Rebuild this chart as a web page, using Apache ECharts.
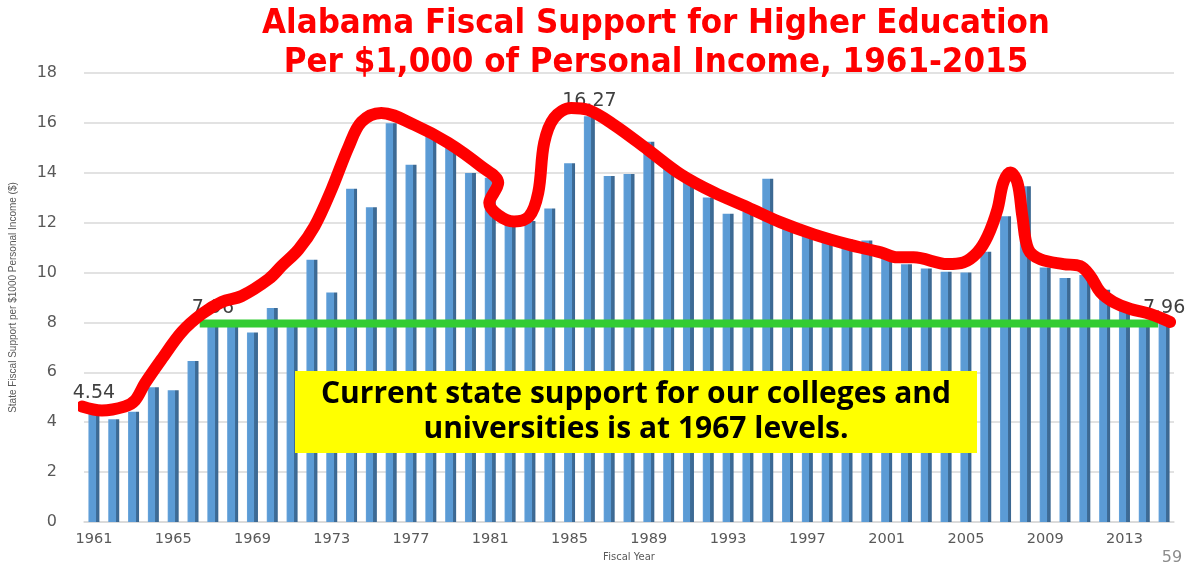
<!DOCTYPE html>
<html>
<head>
<meta charset="utf-8">
<title>Alabama Fiscal Support for Higher Education</title>
<script src="https://cdn.jsdelivr.net/npm/echarts@6/dist/echarts.min.js"></script>
<style>
  html, body { margin: 0; padding: 0; background: #ffffff; }
  #chart { width: 1190px; height: 567px; }
</style>
</head>
<body>
<div id="chart"></div>
<script>
// Fiscal years 1961-2015
const years = [];
for (let y = 1961; y <= 2015; y++) years.push(String(y));

// State fiscal support per $1,000 of personal income
const support = [
  4.54, 4.12, 4.42, 5.40, 5.28, 6.45, 7.96, 8.05, 7.60, 8.58,
  8.05, 10.51, 9.20, 13.36, 12.62, 15.99, 14.32, 15.50, 15.05, 13.99,
  13.80, 12.10, 12.07, 12.57, 14.38, 16.27, 13.87, 13.95, 15.24, 14.19,
  13.70, 13.01, 12.36, 12.45, 13.76, 11.85, 11.55, 11.20, 11.34, 11.29,
  10.55, 10.33, 10.16, 10.03, 10.00, 10.83, 12.26, 13.46, 10.20, 9.78,
  9.90, 9.31, 8.60, 8.10, 7.96
];

// Years whose bars carry a value label
const labeledYears = ['1961', '1967', '1986', '2015'];

// Hand-drawn trend stroke: [year, value]
const trendStroke = [
  [1960.4, 4.63], [1961.4, 4.47], [1962.56, 4.63], [1963.07, 4.87], [1963.57, 5.55],
  [1964.43, 6.54], [1965.43, 7.62], [1966.44, 8.34], [1967.45, 8.82], [1968.46, 9.06],
  [1969.82, 9.74], [1970.47, 10.26], [1971.33, 10.93], [1972.13, 11.85], [1972.99, 13.33],
  [1973.85, 15.04], [1974.5, 16.04], [1975.5, 16.4], [1977.17, 15.92], [1978.88, 15.2],
  [1980.55, 14.25], [1981.4, 13.6], [1980.95, 12.8], [1982.2, 12.05], [1982.96, 12.25],
  [1983.42, 13.2], [1983.72, 15.2], [1984.22, 16.2], [1985.08, 16.6], [1985.94, 16.52],
  [1987.25, 15.92], [1988.96, 14.92], [1990.62, 13.93], [1992.28, 13.21], [1994.0, 12.61],
  [1995.66, 12.01], [1997.32, 11.53], [1999.04, 11.13], [2000.7, 10.81], [2001.55, 10.61],
  [2002.36, 10.61], [2004.07, 10.34], [2004.88, 10.41], [2005.58, 10.81], [2006.09, 11.45],
  [2006.59, 12.53], [2006.89, 13.61], [2007.25, 14.01], [2007.6, 13.61], [2007.85, 12.25],
  [2008.15, 10.93], [2008.76, 10.53], [2009.92, 10.34], [2010.77, 10.26], [2011.28, 9.86],
  [2011.78, 9.22], [2012.44, 8.82], [2013.3, 8.54], [2014.3, 8.34], [2015.3, 8.02]
];

// Reference level: today's support, drawn back to where it was first reached
const levelSpan = [1966.34, 2014.7];
const currentLevel = support[support.length - 1];

// Y-axis tick settings
const yMin = 0, yMax = 18, yStep = 2;

const titleLines = [
  'Alabama Fiscal Support for Higher Education',
  'Per $1,000 of Personal Income, 1961-2015'
];
const calloutLines = [
  'Current state support for our colleges and',
  'universities is at 1967 levels.'
];

const barFill = new echarts.graphic.LinearGradient(0, 0, 1, 0, [
  { offset: 0, color: '#6aa5dc' },
  { offset: 0.12, color: '#5b9bd5' },
  { offset: 0.68, color: '#5b9bd5' },
  { offset: 0.68, color: '#3f6e99' },
  { offset: 1, color: '#3a6690' }
]);

const barData = support.map((v, i) => {
  const item = { value: v };
  if (labeledYears.indexOf(years[i]) >= 0) {
    item.label = {
      show: true,
      position: 'top',
      distance: 6,
      formatter: v.toFixed(2),
      color: '#404040',
      fontFamily: 'DejaVu Sans',
      fontSize: 19
    };
  }
  return item;
});

const chart = echarts.init(document.getElementById('chart'), null, { renderer: 'canvas' });

chart.setOption({
  backgroundColor: '#ffffff',
  animation: false,
  grid: { left: 82, right: 16, top: 73, bottom: 40, containLabel: false },
  xAxis: [
    {
      type: 'category',
      data: years,
      boundaryGap: true,
      axisLine: { show: true, lineStyle: { color: '#d9d9d9', width: 1.5 } },
      axisTick: { show: false },
      axisLabel: {
        interval: 3,
        margin: 10,
        color: '#595959',
        fontFamily: 'DejaVu Sans',
        fontSize: 14.5
      },
      name: 'Fiscal Year',
      nameLocation: 'middle',
      nameGap: 30,
      nameTextStyle: { color: '#595959', fontFamily: 'DejaVu Sans', fontSize: 10 }
    },
    {
      type: 'value',
      min: 1960.5,
      max: 2015.5,
      show: false
    }
  ],
  yAxis: {
    type: 'value',
    min: yMin,
    max: yMax,
    interval: yStep,
    axisLine: { show: false },
    axisTick: { show: false },
    splitLine: { show: true, lineStyle: { color: '#d9d9d9', width: 1.5 } },
    axisLabel: {
      margin: 27,
      color: '#595959',
      fontFamily: 'DejaVu Sans',
      fontSize: 16
    },
    name: 'State Fiscal Support per $1000 Personal Income ($)',
    nameLocation: 'middle',
    nameRotate: 90,
    nameGap: 66,
    nameTextStyle: { color: '#595959', fontFamily: 'Liberation Sans', fontSize: 10 }
  },
  series: [
    {
      type: 'bar',
      xAxisIndex: 0,
      data: barData,
      barWidth: 11,
      itemStyle: { color: barFill },
      z: 2
    },
    {
      type: 'line',
      xAxisIndex: 1,
      data: levelSpan.map(x => [x, currentLevel]),
      symbol: 'none',
      clip: false,
      lineStyle: { color: '#33cc33', width: 8, cap: 'butt' },
      z: 3
    },
    {
      type: 'line',
      xAxisIndex: 1,
      data: trendStroke,
      smooth: 0.35,
      symbol: 'none',
      clip: false,
      lineStyle: { color: '#ff0000', width: 12, cap: 'round', join: 'round' },
      z: 4
    }
  ],
  graphic: [
    {
      type: 'text',
      x: 656,
      y: 24,
      style: {
        text: titleLines[0],
        textAlign: 'center',
        textVerticalAlign: 'middle',
        fill: '#ff0000',
        font: 'bold 34.5px "DejaVu Sans Condensed", "DejaVu Sans"'
      },
      z: 10
    },
    {
      type: 'text',
      x: 656,
      y: 63,
      style: {
        text: titleLines[1],
        textAlign: 'center',
        textVerticalAlign: 'middle',
        fill: '#ff0000',
        font: 'bold 34.5px "DejaVu Sans Condensed", "DejaVu Sans"'
      },
      z: 10
    },
    {
      type: 'rect',
      shape: { x: 295, y: 371, width: 682, height: 82 },
      style: { fill: '#ffff00' },
      z: 10
    },
    {
      type: 'text',
      x: 636,
      y: 394,
      style: {
        text: calloutLines[0],
        textAlign: 'center',
        textVerticalAlign: 'middle',
        fill: '#000000',
        font: 'bold 30px "Open Sans"'
      },
      z: 11
    },
    {
      type: 'text',
      x: 636,
      y: 429,
      style: {
        text: calloutLines[1],
        textAlign: 'center',
        textVerticalAlign: 'middle',
        fill: '#000000',
        font: 'bold 30px "Open Sans"'
      },
      z: 11
    },
    {
      type: 'text',
      x: 1172,
      y: 558,
      style: {
        text: '59',
        textAlign: 'center',
        textVerticalAlign: 'middle',
        fill: '#8c8c8c',
        font: '16px "DejaVu Sans"'
      },
      z: 10
    }
  ]
});
</script>
</body>
</html>
